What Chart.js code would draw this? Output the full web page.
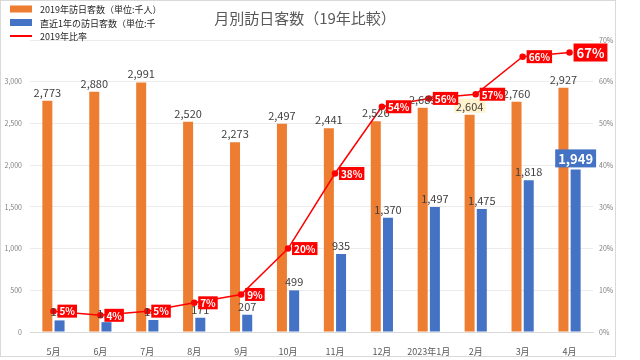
<!DOCTYPE html>
<html lang="ja">
<head>
    <meta charset="UTF-8">
    <title>月別訪日客数（19年比較）</title>
    <style>
        html, body { margin: 0; padding: 0; background: #fff; }
        #wrap { width: 640px; height: 360px; }
    </style>
</head>
<body>
    <div id="wrap"><canvas id="visitChart" width="640" height="360"></canvas></div>

    <script src="https://cdn.jsdelivr.net/npm/chart.js"></script>
    <script>
        // データ
        const months = ['5月', '6月', '7月', '8月', '9月', '10月', '11月', '12月', '2023年1月', '2月', '3月', '4月'];
        const visitors2019 = [2773, 2880, 2991, 2520, 2273, 2497, 2441, 2526, 2689, 2604, 2760, 2927];
        const visitorsRecent = [139, 118, 144, 171, 207, 499, 935, 1370, 1497, 1475, 1818, 1949];
        const ratio2019 = [5, 4, 5, 7, 9, 20, 38, 54, 56, 57, 66, 67];
        const leftTicks = [0, 500, 1000, 1500, 2000, 2500, 3000];
        const rightTicks = [0, 10, 20, 30, 40, 50, 60, 70];

        const legendItems = [
            { text: '2019年訪日客数（単位:千人）', color: '#ED7D31', kind: 'box' },
            { text: '直近1年の訪日客数（単位:千', color: '#4472C4', kind: 'box' },
            { text: '2019年比率', color: '#FF0000', kind: 'line' }
        ];

        const JP = '"Noto Sans CJK JP", "Noto Sans", sans-serif';
        const fmt = v => v.toLocaleString('en-US');

        // タイトル・凡例・データラベルを描くプラグイン
        const decorPlugin = {
            id: 'decor',
            afterDatasetsDraw(chart) {
                const c = chart.ctx;
                c.save();

                // 外枠
                c.strokeStyle = '#d9d9d9';
                c.lineWidth = 1;
                c.strokeRect(0.5, 0.5, 615, 356);

                // タイトル
                c.fillStyle = '#595959';
                c.font = '15px ' + JP;
                c.textAlign = 'center';
                c.textBaseline = 'middle';
                c.fillText('月別訪日客数（19年比較）', 305, 18);

                // 凡例
                c.textAlign = 'left';
                c.font = '9px ' + JP;
                legendItems.forEach((it, i) => {
                    const y = 9 + i * 13.5;
                    if (it.kind === 'box') {
                        c.fillStyle = it.color;
                        c.fillRect(10, y - 3.5, 22, 7);
                    } else {
                        c.strokeStyle = it.color;
                        c.lineWidth = 2;
                        c.beginPath();
                        c.moveTo(10, y);
                        c.lineTo(32, y);
                        c.stroke();
                    }
                    c.fillStyle = '#262626';
                    c.fillText(it.text, 40, y + 1);
                });

                // 棒グラフのラベル
                const orangeMeta = chart.getDatasetMeta(1);
                const blueMeta = chart.getDatasetMeta(2);
                c.textAlign = 'center';
                c.textBaseline = 'alphabetic';
                c.font = '11px ' + JP;
                orangeMeta.data.forEach((bar, i) => {
                    const txt = fmt(visitors2019[i]);
                    if (i === 9) {
                        const w = c.measureText(txt).width + 4;
                        c.fillStyle = '#FFF2CC';
                        c.fillRect(bar.x - w / 2, bar.y - 16, w, 14);
                    }
                    c.fillStyle = '#404040';
                    c.fillText(txt, bar.x, bar.y - 4);
                });
                blueMeta.data.forEach((bar, i) => {
                    const txt = fmt(visitorsRecent[i]);
                    if (i === visitorsRecent.length - 1) {
                        c.font = 'bold 13px ' + JP;
                        const w = c.measureText(txt).width + 6;
                        c.fillStyle = '#4472C4';
                        c.fillRect(bar.x - w / 2, bar.y - 20, w, 18);
                        c.fillStyle = '#fff';
                        c.textBaseline = 'middle';
                        c.fillText(txt, bar.x, bar.y - 10.5);
                        c.textBaseline = 'alphabetic';
                        c.font = '11px ' + JP;
                    } else {
                        c.fillStyle = '#404040';
                        c.fillText(txt, bar.x, bar.y - 4);
                    }
                });

                // 比率のラベル
                const lineMeta = chart.getDatasetMeta(0);
                c.textAlign = 'left';
                c.textBaseline = 'middle';
                lineMeta.data.forEach((pt, i) => {
                    const txt = ratio2019[i] + '%';
                    const big = i === ratio2019.length - 1;
                    c.font = (big ? 'bold 13px ' : 'bold 10px ') + JP;
                    const w = c.measureText(txt).width + (big ? 6 : 4);
                    const h = big ? 18 : 13;
                    const x = pt.x + 4;
                    c.fillStyle = '#FF0000';
                    c.fillRect(x, pt.y - h / 2, w, h);
                    c.fillStyle = '#fff';
                    c.fillText(txt, x + (big ? 3 : 2), pt.y + 0.5);
                });

                c.restore();
            }
        };

        const ctx = document.getElementById('visitChart').getContext('2d');
        const visitChart = new Chart(ctx, {
            type: 'bar',
            data: {
                labels: months,
                datasets: [
                    {
                        type: 'line',
                        label: '2019年比率',
                        data: ratio2019,
                        yAxisID: 'yRight',
                        borderColor: '#FF0000',
                        backgroundColor: '#FF0000',
                        borderWidth: 1.5,
                        pointRadius: 2.5,
                        tension: 0,
                        order: 0
                    },
                    {
                        label: '2019年訪日客数（単位:千人）',
                        data: visitors2019,
                        yAxisID: 'yLeft',
                        backgroundColor: '#ED7D31',
                        categoryPercentage: 0.52,
                        barPercentage: 0.82,
                        order: 1
                    },
                    {
                        label: '直近1年の訪日客数（単位:千人）',
                        data: visitorsRecent,
                        yAxisID: 'yLeft',
                        backgroundColor: '#4472C4',
                        categoryPercentage: 0.52,
                        barPercentage: 0.82,
                        order: 1
                    }
                ]
            },
            options: {
                responsive: false,
                animation: false,
                layout: { padding: { top: 40, left: 0, right: 0, bottom: 0 } },
                plugins: {
                    legend: { display: false },
                    title: { display: false },
                    tooltip: { enabled: false }
                },
                scales: {
                    x: {
                        grid: { display: false },
                        border: { color: '#d9d9d9' },
                        ticks: {
                            color: '#595959',
                            font: { family: JP, size: 9 },
                            padding: 6,
                            maxRotation: 0,
                            autoSkip: false
                        },
                        afterFit: s => { s.height = 28; }
                    },
                    yLeft: {
                        position: 'left',
                        min: 0,
                        max: 3500,
                        afterBuildTicks: s => {
                            s.ticks = leftTicks.concat([3500]).map(v => ({ value: v }));
                        },
                        grid: { color: '#ebebeb', drawTicks: false },
                        border: { display: false },
                        ticks: {
                            color: '#7f7f7f',
                            font: { family: JP, size: 7 },
                            padding: 8,
                            callback: v => (leftTicks.includes(v) ? fmt(v) : '')
                        },
                        afterFit: s => { s.width = 30; }
                    },
                    yRight: {
                        position: 'right',
                        min: 0,
                        max: 70,
                        afterBuildTicks: s => {
                            s.ticks = rightTicks.map(v => ({ value: v }));
                        },
                        grid: { display: false, drawTicks: false },
                        border: { display: false },
                        ticks: {
                            color: '#7f7f7f',
                            font: { family: JP, size: 7 },
                            padding: 6,
                            callback: v => v + '%'
                        },
                        afterFit: s => { s.width = 47; }
                    }
                }
            },
            plugins: [decorPlugin]
        });
    </script>
</body>
</html>
